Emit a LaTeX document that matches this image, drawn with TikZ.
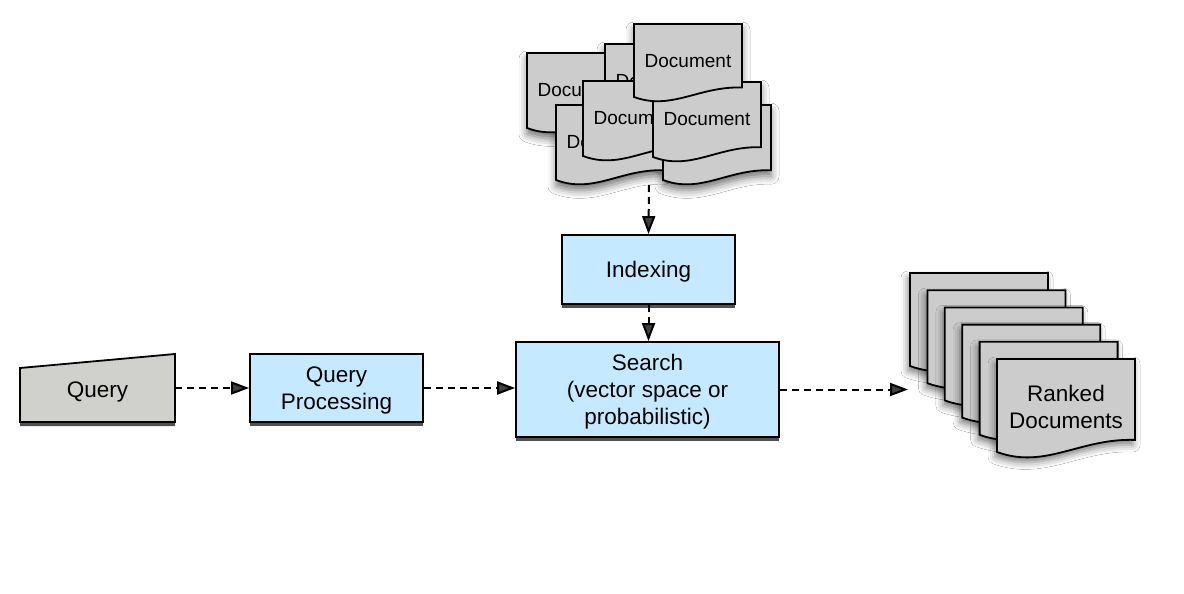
\documentclass[tikz,border=0pt]{standalone}
\usepackage{fontspec}
\setmainfont{Liberation Sans}
\usetikzlibrary{arrows.meta,shadows,shadows.blur}

\definecolor{boxblue}{RGB}{197,234,255}
\definecolor{docgray}{RGB}{204,204,204}
\definecolor{querygray}{RGB}{208,209,204}

\tikzset{
  procbox/.style={draw=black, line width=1.8pt, fill=boxblue, inner sep=0pt,
    drop shadow={shadow xshift=0pt, shadow yshift=-4pt, fill=black!80, opacity=.85}},
  boxtext/.style={align=center, font=\fontsize{22.5}{27}\selectfont, inner sep=0pt},
  flow/.style={line width=2pt, dash pattern=on 7pt off 5pt,
    -{Triangle[length=18pt,width=13pt]}},
  docpage/.style={draw=black, line width=1.8pt, fill=docgray},
  docshade/.style={blur shadow={shadow xshift=0pt, shadow yshift=-6pt,
    shadow blur radius=8pt, shadow opacity=55}},
  doclabel/.style={font=\fontsize{19}{23}\selectfont, inner sep=0pt},
  rankshade/.style={blur shadow={shadow xshift=-2pt, shadow yshift=-5pt,
    shadow blur radius=7pt, shadow opacity=50}},
}

% #1 left, #2 top, #3 width, #4 left height
\newcommand\docoutline[4]{(#1,#2) -- (#1+#3,#2) -- (#1+#3,#2+0.87*#4)
  .. controls (#1+0.6*#3,#2+0.85*#4) and (#1+0.35*#3,#2+1.19*#4) .. (#1,#2+#4) -- cycle}

\begin{document}
\begin{tikzpicture}[x=1pt,y=-1pt]
\useasboundingbox[fill=white] (0,0) rectangle (1184,594);

% ---------- document pile (top) ----------
\foreach \l/\t in {527/53,605/44,556/105,663/105,583/81,653/82,634/24}{
  \path[docshade] \docoutline{\l}{\t}{108}{75};
}
\path[docpage] \docoutline{527}{53}{108}{75};
\node[doclabel] (docA) at (581,90) {Document};
\path[docpage] \docoutline{605}{44}{108}{75};
\node[doclabel] (docB) at (659,81) {Document};
\path[docpage] \docoutline{556}{105}{108}{75};
\node[doclabel] (docD) at (610,142) {Document};
\path[docpage] \docoutline{663}{105}{108}{75};
\node[doclabel] (docG) at (717,142) {Document};
\path[docpage] \docoutline{583}{81}{108}{75};
\node[doclabel] (docE) at (637,118) {Document};
\path[docpage] \docoutline{653}{82}{108}{75};
\node[doclabel] (docF) at (707,119) {Document};
\path[docpage] \docoutline{634}{24}{108}{73};
\node[doclabel] (docC) at (688,61) {Document};
\coordinate (pilebot) at (649,185);

% ---------- ranked documents ----------
\foreach \i in {0,...,4}{
  \path[docpage, rankshade] \docoutline{910+17.4*\i}{273+17.2*\i}{138}{93};
}
\path[docpage, rankshade] \docoutline{997}{359}{138}{93};
\node[boxtext] (ranked) at (1066,407) {Ranked\\Documents};
\coordinate (rankin) at (908,389.5);

% ---------- query ----------
\path[draw=black, line width=1.8pt, fill=querygray,
  drop shadow={shadow xshift=0pt, shadow yshift=-4pt, fill=black!80, opacity=.85}]
  (20,368) -- (175,354) -- (175,422) -- (20,422) -- cycle;
\node[minimum width=155pt, minimum height=68pt, inner sep=0pt] (query) at (97.5,388) {};
\node[boxtext] (querytext) at ([yshift=-4pt]query.center) {Query};

% ---------- process boxes ----------
\node[procbox, minimum width=173pt, minimum height=68pt] (qp) at (336.5,388) {};
\node[boxtext] (qptext) at ([yshift=-2.5pt]qp.center) {Query\\Processing};
\node[procbox, minimum width=263pt, minimum height=95pt] (search) at (647.5,389.5) {};
\node[boxtext] (searchtext) at ([yshift=-2.5pt]search.center)
  {Search\\(vector space or\\probabilistic)};
\node[procbox, minimum width=173pt, minimum height=69pt] (idx) at (648.5,269.5) {};
\node[boxtext] (idxtext) at ([yshift=-2.5pt]idx.center) {Indexing};

% ---------- connectors ----------
\draw[flow] (query.east) -- (qp.west);
\draw[flow] (qp.east) -- (qp.east -| search.west);
\draw[flow] (search.east) -- (rankin);
\draw[flow] (pilebot) -- (idx.north);
\draw[flow] (idx.south) -- (idx.south |- search.north);
\end{tikzpicture}
\end{document}
